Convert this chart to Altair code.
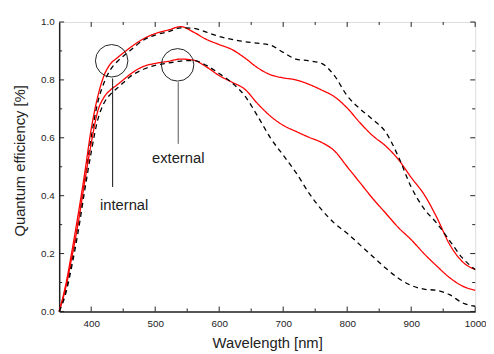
import altair as alt
import pandas as pd

# ---- data ----
wavelength = [350, 360, 370, 380, 390, 400, 410, 420, 430, 440, 450, 460, 480, 500,
              520, 540, 560, 580, 600, 620, 640, 660, 680, 700, 720, 740, 760, 780,
              800, 820, 840, 860, 880, 900, 920, 940, 960, 980, 1000]

internal_red = [0.0, 0.09, 0.21, 0.34, 0.48, 0.63, 0.74, 0.815, 0.855, 0.875, 0.893, 0.91,
                0.94, 0.96, 0.972, 0.984, 0.965, 0.94, 0.922, 0.905, 0.876, 0.842, 0.818,
                0.807, 0.80, 0.785, 0.765, 0.742, 0.703, 0.652, 0.607, 0.572, 0.525, 0.463,
                0.405, 0.325, 0.232, 0.172, 0.145]

internal_dash = [0.0, 0.07, 0.18, 0.31, 0.45, 0.60, 0.72, 0.79, 0.835, 0.862, 0.882, 0.90,
                 0.935, 0.955, 0.966, 0.98, 0.978, 0.965, 0.95, 0.94, 0.932, 0.927, 0.92,
                 0.895, 0.872, 0.866, 0.857, 0.815, 0.745, 0.70, 0.663, 0.62, 0.535, 0.43,
                 0.355, 0.305, 0.245, 0.185, 0.145]

external_red = [0.0, 0.08, 0.19, 0.31, 0.45, 0.58, 0.69, 0.74, 0.765, 0.782, 0.80, 0.818,
                0.845, 0.857, 0.864, 0.872, 0.868, 0.845, 0.815, 0.792, 0.768, 0.718, 0.675,
                0.643, 0.622, 0.602, 0.584, 0.555, 0.50, 0.445, 0.39, 0.34, 0.29, 0.248,
                0.20, 0.157, 0.117, 0.088, 0.073]

external_dash = [0.0, 0.06, 0.16, 0.28, 0.42, 0.55, 0.66, 0.72, 0.75, 0.77, 0.79, 0.81,
                 0.835, 0.85, 0.858, 0.865, 0.867, 0.85, 0.822, 0.79, 0.745, 0.675, 0.60,
                 0.54, 0.48, 0.41, 0.352, 0.305, 0.27, 0.23, 0.19, 0.15, 0.115, 0.09,
                 0.077, 0.073, 0.058, 0.03, 0.018]

series_names = ["internal_red", "internal_dash", "external_red", "external_dash"]
series_values = [internal_red, internal_dash, external_red, external_dash]
series_colors = ["#ff0000", "#000000", "#ff0000", "#000000"]
series_dashes = [[1, 0], [5, 4], [1, 0], [5, 4]]

x_major = [400, 500, 600, 700, 800, 900, 1000]
x_minor = [450, 550, 650, 750, 850, 950]
y_major = [0.0, 0.2, 0.4, 0.6, 0.8, 1.0]
y_minor = [0.1, 0.3, 0.5, 0.7, 0.9]

# annotations (data coordinates)
circle_wl = [432, 535]
circle_qe = [0.866, 0.852]
leader_wl = [433.5, 536]
leader_top = [0.805, 0.792]
leader_bottom = [0.43, 0.579]
leader_color = ["#111111", "#555555"]
label_text = ["internal", "external"]
label_wl = [451.5, 536]
label_qe = [0.366, 0.531]

rows = []
for name, vals in zip(series_names, series_values):
    for w, q in zip(wavelength, vals):
        rows.append({"wl": w, "qe": q, "series": name})
df = pd.DataFrame(rows)

circ_df = pd.DataFrame({"wl": circle_wl, "qe": circle_qe})
lead_df = pd.DataFrame({"wl": leader_wl, "qe": leader_top, "qe2": leader_bottom,
                        "col": leader_color})
lab_df = pd.DataFrame({"wl": label_wl, "qe": label_qe, "text": label_text})

W, H = 422.5, 294
FONT = "Liberation Sans"
TICK = "#222222"

xscale = alt.Scale(domain=[350, 1000], nice=False, zero=False)
yscale = alt.Scale(domain=[0, 1.0], nice=False, zero=False)

main = alt.Chart(df).mark_line(interpolate="monotone", strokeWidth=1.3).encode(
    x=alt.X("wl:Q", scale=xscale,
            axis=alt.Axis(values=x_major, format="d", ticks=False, tickSize=0, grid=False,
                          labelFont=FONT, labelFontSize=10, labelColor="#222222",
                          labelPadding=7, labelFlush=False,
                          title="Wavelength [nm]", titleFont=FONT, titleFontSize=15,
                          titleFontWeight="normal", titleColor="#222222",
                          titleBaseline="middle", titleY=32,
                          domainColor="#222222", domainWidth=1.5)),
    y=alt.Y("qe:Q", scale=yscale,
            axis=alt.Axis(values=y_major, format=".1f", ticks=False, tickSize=0, grid=False,
                          labelFont=FONT, labelFontSize=10, labelColor="#222222",
                          labelPadding=5, labelFlush=False,
                          title="Quantum efficiency [%]", titleFont=FONT, titleFontSize=15,
                          titleFontWeight="normal", titleColor="#222222",
                          titleAlign="center", titleBaseline="middle",
                          titleX=-40, titleY=140.5,
                          domainColor="#222222", domainWidth=1.5)),
    color=alt.Color("series:N", scale=alt.Scale(domain=series_names, range=series_colors),
                    legend=None),
    strokeDash=alt.StrokeDash("series:N",
                              scale=alt.Scale(domain=series_names, range=series_dashes),
                              legend=None),
    detail="series:N",
)


def xticks(vals, size):
    d = pd.DataFrame({"wl": vals})
    base = alt.Chart(d).mark_rule(color=TICK, strokeWidth=1)
    bottom = base.encode(x=alt.X("wl:Q", scale=xscale),
                         y=alt.value(H), y2=alt.value(H - size))
    top = base.encode(x=alt.X("wl:Q", scale=xscale),
                      y=alt.value(0), y2=alt.value(size))
    return [bottom, top]


def yticks(vals, size):
    d = pd.DataFrame({"qe": vals})
    base = alt.Chart(d).mark_rule(color=TICK, strokeWidth=1)
    left = base.encode(y=alt.Y("qe:Q", scale=yscale),
                       x=alt.value(0), x2=alt.value(size))
    right = base.encode(y=alt.Y("qe:Q", scale=yscale),
                        x=alt.value(W), x2=alt.value(W - size))
    return [left, right]


ticks = xticks(x_major, 5) + xticks(x_minor, 3) + yticks(y_major, 5) + yticks(y_minor, 3)

circles = alt.Chart(circ_df).mark_point(shape="circle", size=1089, filled=False,
                                        stroke="#222222", strokeWidth=1, opacity=1).encode(
    x=alt.X("wl:Q", scale=xscale),
    y=alt.Y("qe:Q", scale=yscale),
)

leaders = alt.Chart(lead_df).mark_rule(strokeWidth=1).encode(
    x=alt.X("wl:Q", scale=xscale),
    y=alt.Y("qe:Q", scale=yscale),
    y2="qe2:Q",
    color=alt.Color("col:N", scale=None, legend=None),
)

labels = alt.Chart(lab_df).mark_text(font=FONT, fontSize=15, color="#222222",
                                     align="center", baseline="middle").encode(
    x=alt.X("wl:Q", scale=xscale),
    y=alt.Y("qe:Q", scale=yscale),
    text="text:N",
)

chart = alt.layer(main, *ticks, circles, leaders, labels).properties(
    width=W, height=H,
    autosize=alt.AutoSizeParams(type="none"),
    padding={"left": 52, "top": 11.5, "right": 11, "bottom": 42},
).configure_view(stroke="#222222", strokeWidth=1.3).configure(background="white")

chart.save("out.html", embed_options={"renderer": "svg", "actions": False})
